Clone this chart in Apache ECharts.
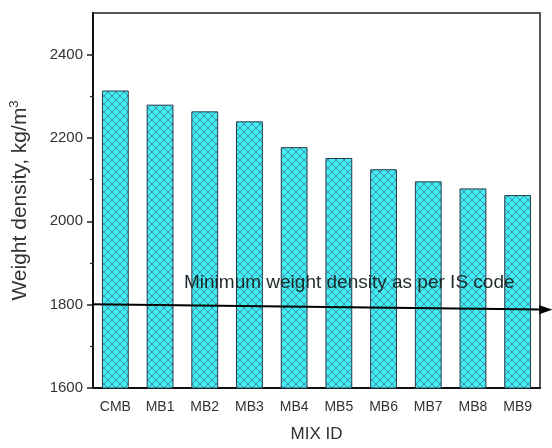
<!DOCTYPE html>
<html><head><meta charset="utf-8">
<script src="https://cdn.jsdelivr.net/npm/echarts@6/dist/echarts.min.js"></script>
<style>html,body{margin:0;padding:0;background:#fff}#c{width:552px;height:448px}</style>
</head><body><div id="c"></div>
<script>
const categories = ['CMB','MB1','MB2','MB3','MB4','MB5','MB6','MB7','MB8','MB9'];
const densities = [2314, 2280, 2264, 2240, 2178, 2152, 2125, 2096, 2079, 2063];
const yMajorTicks = [1600, 1800, 2000, 2200, 2400];
const yMinorTicks = [1700, 1900, 2100, 2300];
const limitLine = [[-0.09, 1801], [10.13, 1788]];
const limitText = 'Minimum weight density as per IS code';

// cross-hatch pattern
const pc = document.createElement('canvas');
pc.width = 8; pc.height = 8;
const g = pc.getContext('2d');
g.fillStyle = '#42EEF0'; g.fillRect(0,0,8,8);
g.strokeStyle = 'rgba(60,80,130,0.75)'; g.lineWidth = 0.8;
g.beginPath(); g.moveTo(0,0); g.lineTo(8,8); g.moveTo(8,0); g.lineTo(0,8); g.stroke();

const font = '"Liberation Sans", Arial, sans-serif';
const chart = echarts.init(document.getElementById('c'), null, {renderer:'canvas'});
chart.setOption({
  animation: false,
  grid: {left: 89, right: 12, top: 13, bottom: 58, show: true, borderColor: '#555', borderWidth: 2},
  xAxis: [
    {type:'category', data: categories, position:'bottom',
     axisLine:{show:true, lineStyle:{color:'#111', width:2}},
     axisTick:{alignWithLabel:true, length:5, lineStyle:{color:'#222', width:1.5}},
     axisLabel:{color:'#333', fontSize:14, fontFamily:font, margin:12},
     name:'MIX ID', nameLocation:'middle', nameGap:38,
     nameTextStyle:{color:'#333', fontSize:17, fontFamily:font}},
    {type:'category', data: categories, position:'bottom',
     axisLine:{show:false}, axisLabel:{show:false},
     axisTick:{length:3, lineStyle:{color:'#222', width:1.2}}},
    {type:'value', min:0, max:10, show:false}
  ],
  yAxis: [
    {type:'value', min:1600, max:2500, interval:100,
     axisLine:{show:true, lineStyle:{color:'#111', width:2}},
     axisTick:{show:true, length:6, customValues: yMajorTicks, lineStyle:{color:'#222', width:1.5}},
     axisLabel:{customValues: yMajorTicks, color:'#333', fontSize:15, fontFamily:font, margin:10,
       formatter: v => String(v)},
     splitLine:{show:false},
     name:'Weight density, kg/m{sup|3}', nameLocation:'middle', nameGap:61,
     nameTextStyle:{color:'#333', fontSize:21, fontFamily:font,
       rich:{sup:{fontSize:13, fontFamily:font, color:'#333', verticalAlign:'top', padding:[0,0,11,0]}}}},
    {type:'value', min:1600, max:2500, interval:100, position:'left',
     axisLine:{show:false}, axisLabel:{show:false}, splitLine:{show:false},
     axisTick:{show:true, length:3, customValues: yMinorTicks, lineStyle:{color:'#222', width:1.2}}}
  ],
  series: [
    {type:'bar', data: densities, barWidth:'60%',
     itemStyle:{color:{image: pc, repeat:'repeat'}, borderColor:'#2a3a4a', borderWidth:1}},
    {type:'line', xAxisIndex:2, data: limitLine, clip:false,
     lineStyle:{color:'#000', width:2},
     symbol: (v, p) => p.dataIndex === 1 ? 'triangle' : 'none',
     symbolSize:[9,13], symbolRotate:-90, itemStyle:{color:'#000'}, z:5}
  ],
  graphic: [
    {type:'text', left:184, top:273, z:10,
     style:{text: limitText, font:'19px ' + font, fill:'#1e2a2a'}}
  ]
});
</script></body></html>
